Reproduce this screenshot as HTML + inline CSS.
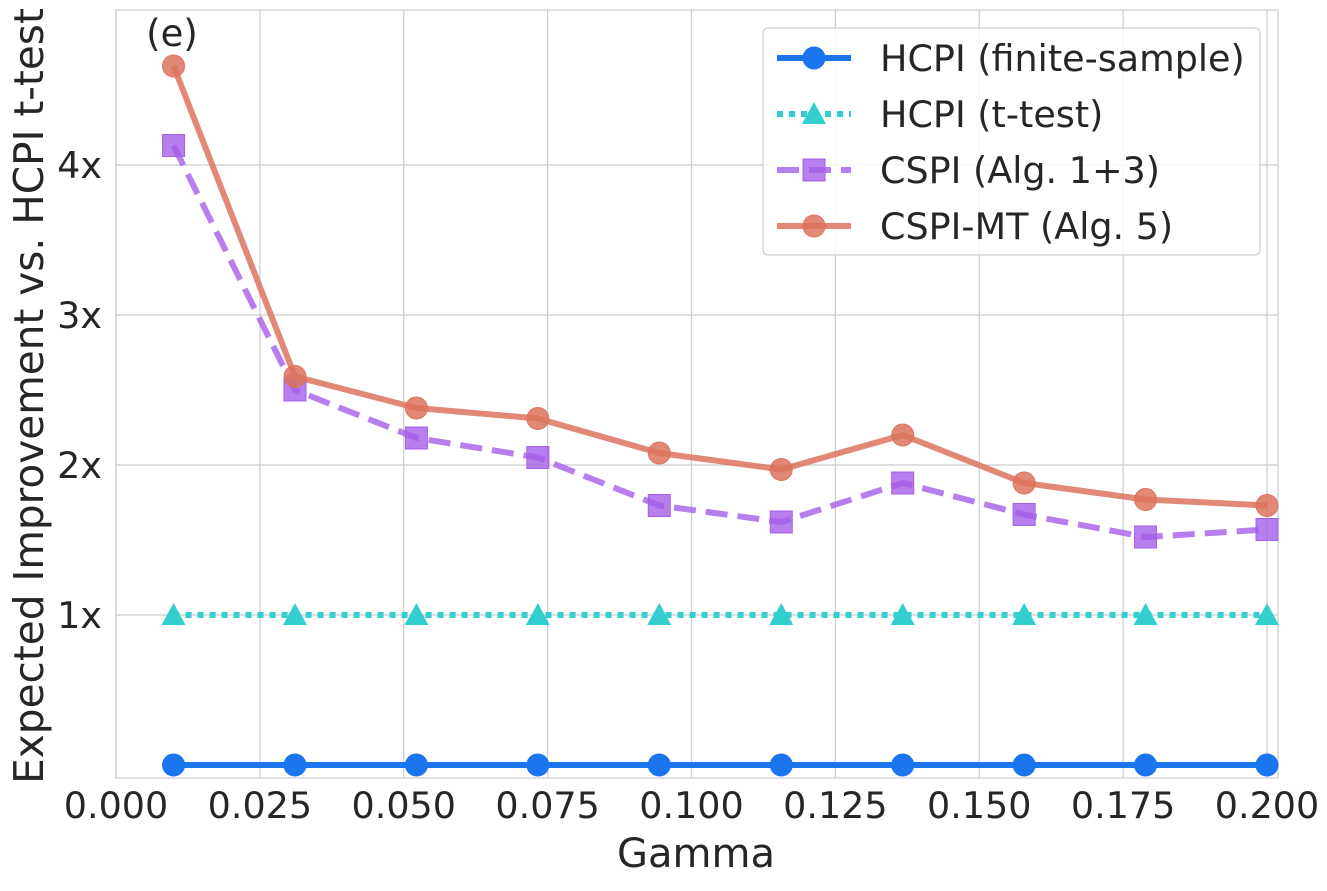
<!DOCTYPE html>
<html><head><meta charset="utf-8"><style>
body{margin:0;background:#fff;font-family:"Liberation Sans","DejaVu Sans",sans-serif}
</style></head><body>
<svg id="c" width="1327" height="886" xmlns="http://www.w3.org/2000/svg" font-family="DejaVu Sans, Liberation Sans, sans-serif"></svg>
<script>
const gammas=[0.01,0.0311,0.0522,0.0733,0.0944,0.1156,0.1367,0.1578,0.1789,0.2];
const hcpiFinite=[0,0,0,0,0,0,0,0,0,0];
const hcpiTtest=[1,1,1,1,1,1,1,1,1,1];
const cspi=[4.13,2.5,2.18,2.05,1.73,1.62,1.88,1.67,1.52,1.57];
const cspiMT=[4.66,2.59,2.38,2.31,2.08,1.97,2.2,1.88,1.77,1.73];
const xTicks=[0,0.025,0.05,0.075,0.1,0.125,0.15,0.175,0.2];
const xTickLabels=["0.000","0.025","0.050","0.075","0.100","0.125","0.150","0.175","0.200"];
const yTicks=[1,2,3,4];
const yTickLabels=["1x","2x","3x","4x"];
const svg=document.getElementById('c');const NS="http://www.w3.org/2000/svg";
const L=116,R=1278,T=10,B=778;
const X=v=>116+v/0.2*1151;
const Y=v=>765-v*150;
function mk(t,a,p){const e=document.createElementNS(NS,t);for(const k in a)e.setAttribute(k,a[k]);(p||svg).appendChild(e);return e;}
mk('rect',{x:L,y:T,width:R-L,height:B-T,fill:'#fff',stroke:'#ccc','stroke-width':1.2});
xTicks.forEach((v,i)=>{const g=mk('line',{x1:X(v),x2:X(v),y1:T,y2:B,stroke:'#ccc','stroke-width':1.2});

const t=mk('text',{x:X(v),y:818,'text-anchor':'middle','font-size':36.5,fill:'#262626'});t.textContent=xTickLabels[i];
});
yTicks.forEach((v,i)=>{const g=mk('line',{x1:L,x2:R,y1:Y(v),y2:Y(v),stroke:'#ccc','stroke-width':1.2});

const t=mk('text',{x:102,y:Y(v)+13,'text-anchor':'end','font-size':36.5,fill:'#262626'});t.textContent=yTickLabels[i];
});
let t=mk('text',{x:696,y:867,'text-anchor':'middle','font-size':40,fill:'#262626'});t.textContent='Gamma';

t=mk('text',{x:0,y:0,'text-anchor':'middle','font-size':40.6,fill:'#262626',transform:'translate(43,396) rotate(-90)'});t.textContent='Expected Improvement vs. HCPI t-test';

t=mk('text',{x:172,y:46,'text-anchor':'middle','font-size':37,fill:'#262626'});t.textContent='(e)';

function marker(shape,x,y,col,op,g){
 if(shape==='o')return mk('circle',{cx:x,cy:y,r:11,fill:col,'fill-opacity':op,stroke:col},g);
 if(shape==='^')return mk('polygon',{points:`${x},${y-12} ${x+12},${y+10} ${x-12},${y+10}`,fill:col,'fill-opacity':op},g);
 return mk('rect',{x:x-11,y:y-11,width:22,height:22,fill:col,'fill-opacity':op,stroke:col},g);
}
const series=[
 {name:'HCPI (finite-sample)',d:hcpiFinite,c:'#1a75ee',dash:'',m:'o',op:1,key:'hcpi-finite'},
 {name:'HCPI (t-test)',d:hcpiTtest,c:'#33cfcf',dash:'6,6',m:'^',op:1,key:'hcpi-ttest'},
 {name:'CSPI (Alg. 1+3)',d:cspi,c:'#a55ee8',dash:'22,10',m:'s',op:0.8,key:'cspi'},
 {name:'CSPI-MT (Alg. 5)',d:cspiMT,c:'#dc735e',dash:'',m:'o',op:0.85,key:'cspi-mt'}];
series.forEach(s=>{
 const g=mk('g',{});
 const pts=s.d.map((v,i)=>X(gammas[i])+','+Y(v)).join(' ');
 mk('polyline',{points:pts,fill:'none',stroke:s.c,'stroke-width':6,'stroke-dasharray':s.dash,'stroke-opacity':s.op,'stroke-linejoin':'round'},g);
 s.d.forEach((v,i)=>{const m=marker(s.m,X(gammas[i]),Y(v),s.c,s.op,g);
 });
});
const lg=mk('g',{});
mk('rect',{x:763,y:28,width:497,height:227,rx:5,fill:'#fff','fill-opacity':0.85,stroke:'#ccc','stroke-width':1.2},lg);
series.forEach((s,i)=>{const y=58+i*56;
 const e=mk('g',{},lg);
 mk('line',{x1:777,x2:851,y1:y,y2:y,stroke:s.c,'stroke-width':6,'stroke-dasharray':s.dash,'stroke-opacity':s.op},e);
 marker(s.m,814,y,s.c,s.op,e);
 const tx=mk('text',{x:880,y:y+13,'font-size':36.5,fill:'#262626'},e);tx.textContent=s.name;});
</script>
</body></html>
